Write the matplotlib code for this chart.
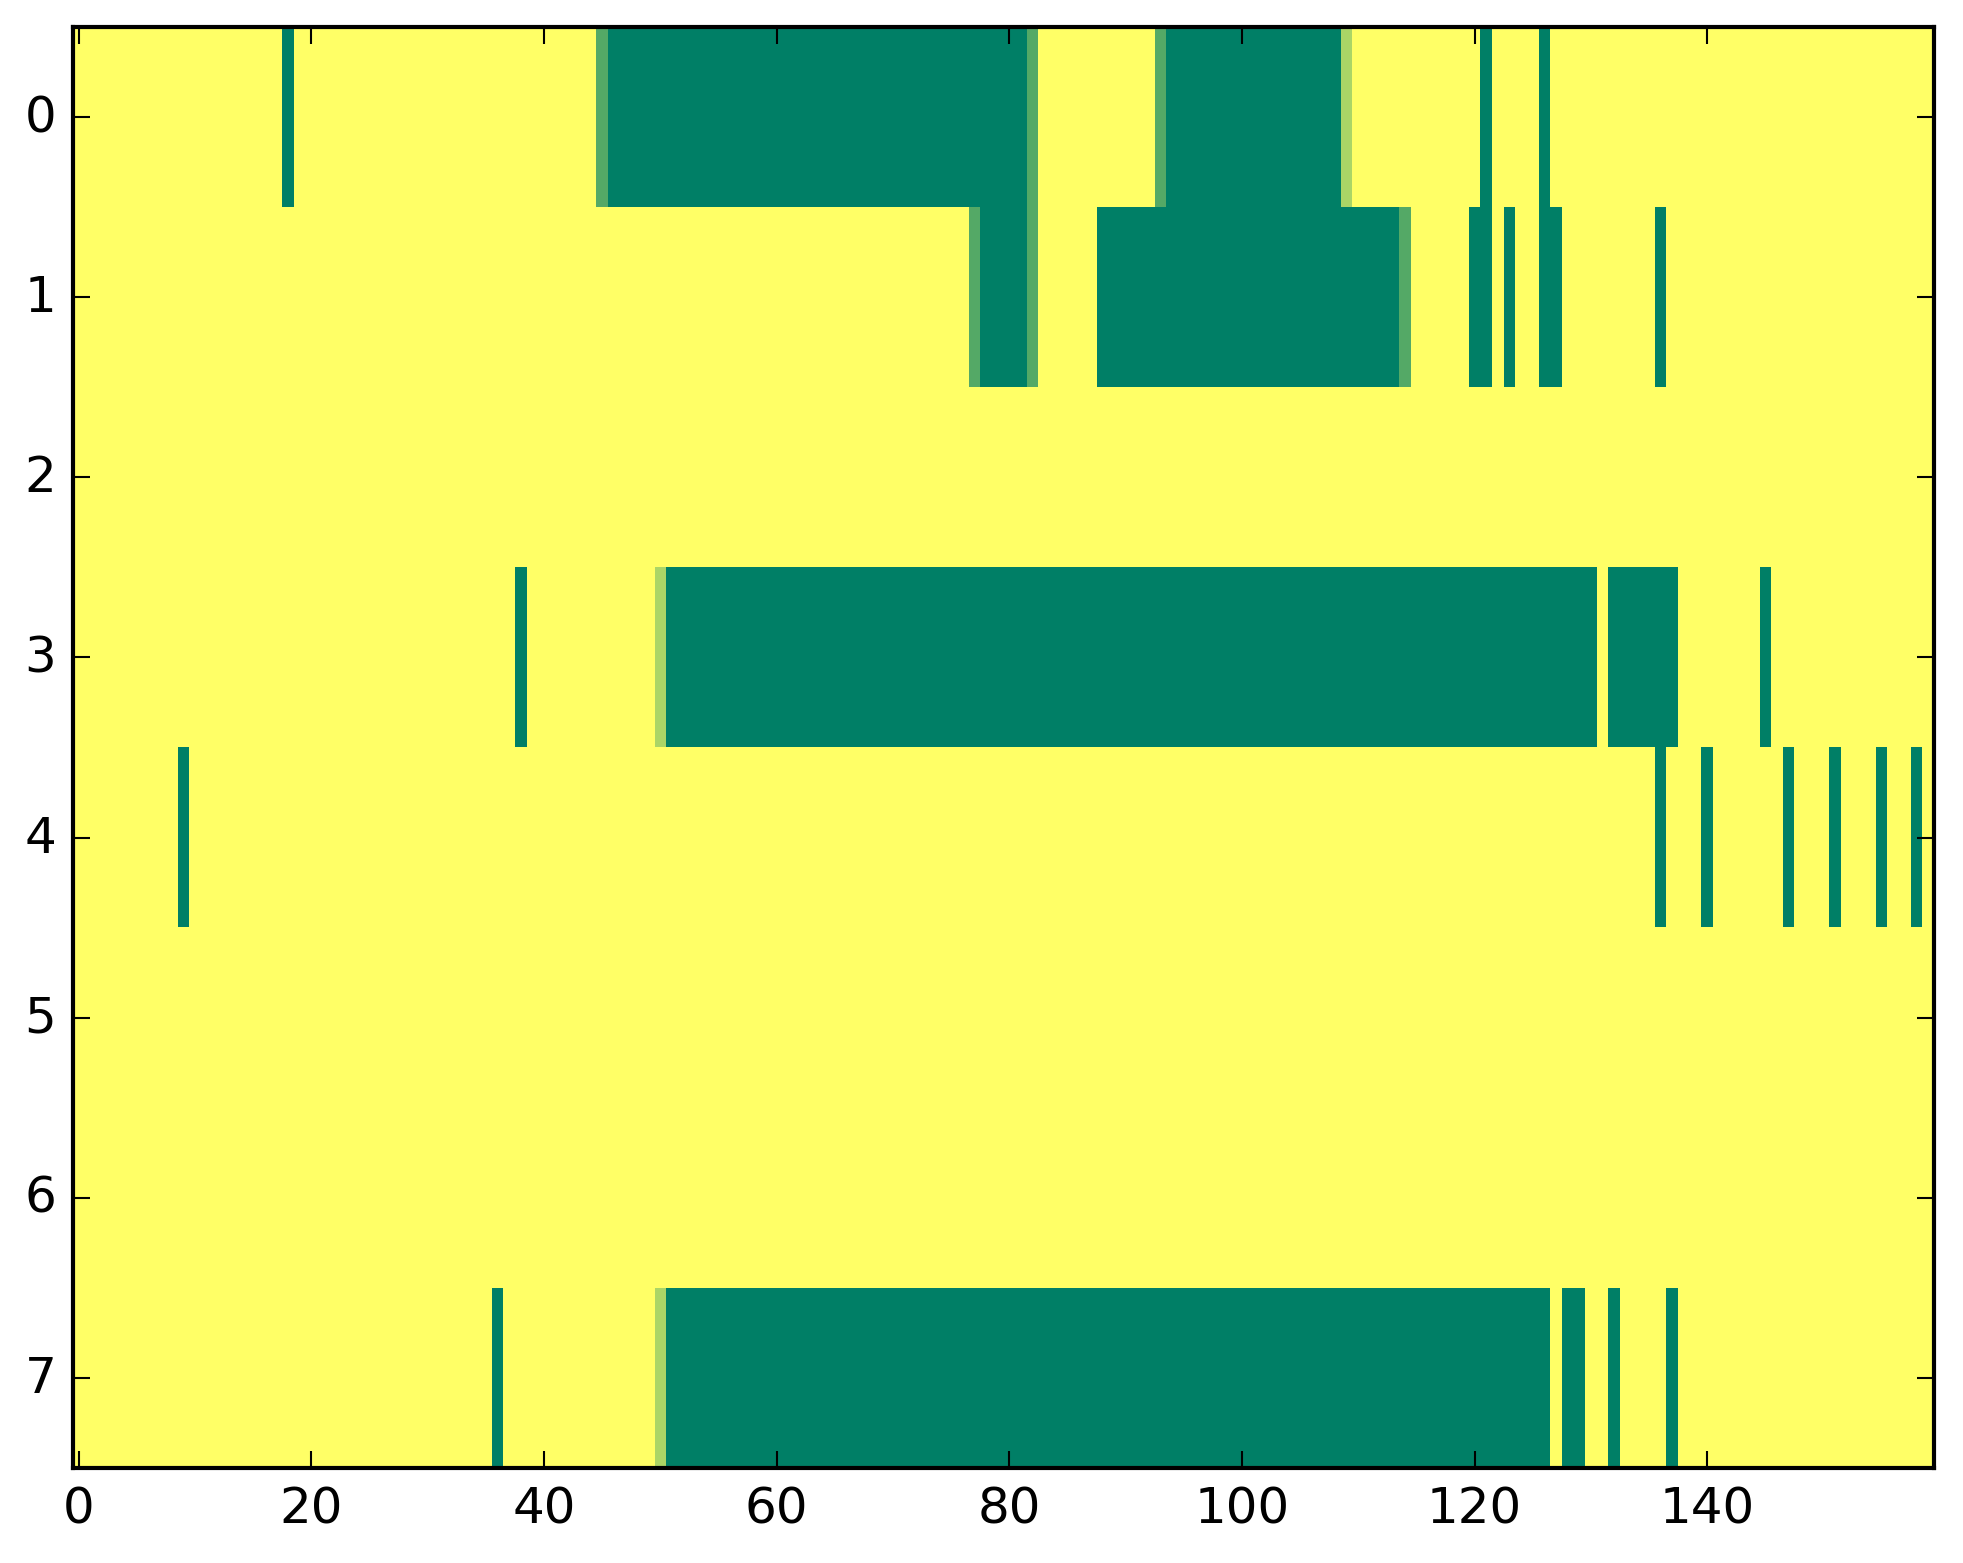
import numpy as np
import matplotlib
matplotlib.use("Agg")
import matplotlib.pyplot as plt

n_rows = 8
n_cols = 160

# runs of full (value 1) cells per row: (first column, last column)
row0_runs = [(18, 18), (46, 81), (94, 108), (121, 121), (126, 126)]
row1_runs = [(78, 81), (88, 113), (120, 121), (123, 123), (126, 127), (136, 136)]
row3_runs = [(38, 38), (51, 130), (132, 137), (145, 145)]
row4_runs = [(9, 9), (136, 136), (140, 140), (147, 147), (151, 151), (155, 155), (158, 158)]
row7_runs = [(36, 36), (51, 126), (128, 129), (132, 132), (137, 137)]

# partial cells: (row, column, value)
partial_cells = [(0, 45, 0.67), (0, 82, 0.67), (0, 93, 0.67), (0, 109, 0.33),
                 (1, 77, 0.67), (1, 82, 0.67), (1, 114, 0.67),
                 (3, 50, 0.33), (7, 50, 0.33)]

runs_by_row = {0: row0_runs, 1: row1_runs, 3: row3_runs, 4: row4_runs, 7: row7_runs}

grid = np.zeros((n_rows, n_cols))
for r, runs in runs_by_row.items():
    for a, b in runs:
        grid[r, a:b + 1] = 1.0
for r, c, v in partial_cells:
    grid[r, c] = v

plt.style.use("classic")
plt.rcParams["figure.facecolor"] = "white"
plt.rcParams["savefig.facecolor"] = "white"

fig = plt.figure(figsize=(1963 / 300, 1564 / 300), dpi=300)
ax = fig.add_axes([73 / 1963, 95 / 1564, 1861 / 1963, 1441 / 1564])
ax.imshow(grid, cmap="summer_r", vmin=0, vmax=1, aspect="auto",
          interpolation="nearest")
ax.set_xlim(-0.5, n_cols - 0.5)
ax.set_ylim(n_rows - 0.5, -0.5)
ax.set_xticks(range(0, 141, 20))
ax.set_yticks(range(n_rows))
ax.tick_params(direction="in", top=True, right=True, labelsize=12)

fig.savefig("out.png", dpi=300)
